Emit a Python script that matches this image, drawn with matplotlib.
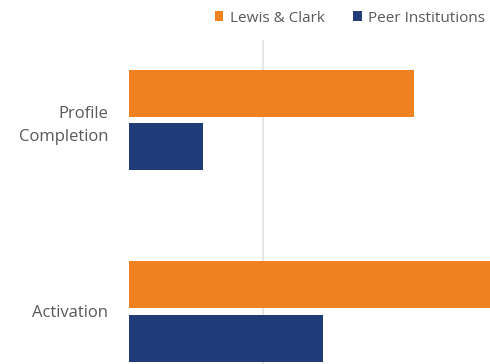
import matplotlib.pyplot as plt
import numpy as np

plt.rcParams['font.family'] = ['Open Sans', 'DejaVu Sans']

categories = ["Activation", "Profile\nCompletion"]
lewis_clark = [58, 42.7]
peer = [29, 11]
series_names = ["Lewis & Clark", "Peer Institutions"]

orange = "#EF8121"
navy = "#1F3B78"
text_gray = "#595959"

fig = plt.figure(figsize=(4.9, 3.64), dpi=100)
ax = fig.add_axes([129 / 490, 0, 1 - 129 / 490, 1 - 40 / 364])

y = np.arange(len(categories))
h = 0.246
off = 0.141
ax.barh(y + off, lewis_clark, height=h, color=orange, label=series_names[0], zorder=2)
ax.barh(y - off, peer, height=h, color=navy, label=series_names[1], zorder=2)

ax.set_xlim(0, 54)
ax.set_ylim(-0.277, 1.419)
ax.set_axisbelow(True)
ax.set_xticks([20])
ax.xaxis.grid(True, color="#E3E3E3", linewidth=1.2)
ax.tick_params(axis="x", length=0, labelbottom=False)

ax.set_yticks(y)
ax.set_yticklabels(categories, fontsize=12, color=text_gray, linespacing=1.55)
ax.tick_params(axis="y", length=0, pad=15)
for s in ax.spines.values():
    s.set_visible(False)

fig.legend(loc="center", bbox_to_anchor=(350 / 490, 1 - 18 / 364), ncol=2,
           frameon=False, fontsize=11, handlelength=0.55, handleheight=0.55,
           handletextpad=0.4, columnspacing=1.9, labelcolor=text_gray)

fig.savefig("out.png", dpi=100)
